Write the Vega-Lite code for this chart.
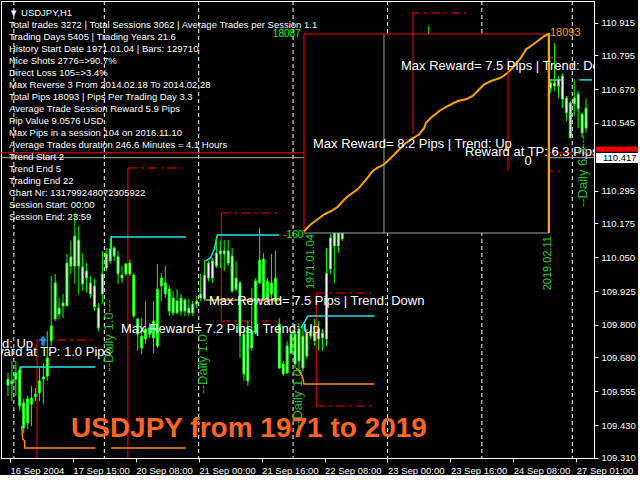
{
"$schema":"https://vega.github.io/schema/vega-lite/v6.json",
"width":593,"height":457,"padding":0,"background":"#000000",
"config":{"view":{"stroke":"#ffffff","strokeWidth":1},"text":{"font":"Liberation Sans"},"axis":{"labelOverlap":false,"labelFlush":false,"labelBound":false}},
"resolve":{"scale":{"x":"independent","y":"independent"}},
"layer":[
{"layer":[
 {"data":{"values":[{"i":1.5},{"i":24.5},{"i":48.5},{"i":72.5},{"i":96.5},{"i":120.5},{"i":143.5}]},
  "mark":{"type":"rule","color":"#ffffff","strokeDash":[4,3],"strokeWidth":1},
  "encoding":{"x":{"field":"i","type":"quantitative","title":null,"scale":{"domain":[-0.5,147.75],"nice":false,"zero":false},
   "axis":{"orient":"bottom","title":null,"grid":false,"tickCount":30,"values":[0.5,16.5,32.5,48.5,64.5,80.5,96.5,112.5,128.5,144.5],
    "labelExpr":"['16 Sep 2004','17 Sep 15:00','20 Sep 08:00','21 Sep 00:00','21 Sep 16:00','22 Sep 08:00','23 Sep 00:00','23 Sep 16:00','24 Sep 08:00','27 Sep 01:00'][floor(datum.value/16)]",
    "labelAlign":"left","labelColor":"#ffffff","labelFont":"Liberation Sans","labelFontSize":9.5,"tickColor":"#ffffff","tickSize":4,"domainColor":"#ffffff","labelPadding":3,"labelOverlap":false,"labelFlush":false,"labelBound":false}}}},
 {"data":{"values":[{"p":110.435,"line":"ask"},{"p":110.417,"line":"bid"}]},
  "mark":{"type":"rule","strokeWidth":1},
  "encoding":{"y":{"field":"p","type":"quantitative","title":null,"scale":{"domain":[109.309,110.995],"nice":false,"zero":false},
   "axis":{"orient":"right","title":null,"grid":false,"tickCount":30,"values":[110.915,110.795,110.670,110.545,110.295,110.175,110.050,109.925,109.800,109.680,109.555,109.430,109.310],
    "format":".3f","labelColor":"#ffffff","labelFont":"Liberation Sans","labelFontSize":9.5,"tickColor":"#ffffff","tickSize":4,"domainColor":"#ffffff","labelPadding":3,"labelOverlap":false,"labelFlush":false,"labelBound":false}},
   "color":{"field":"line","type":"nominal","scale":{"domain":["ask","bid"],"range":["#ff0000","#b0b0b0"]},"legend":null}}},
 {"data":{"values":[
   {"i1":7.375,"i2":21.5,"p":109.744},{"i1":30.5,"i2":44.5,"p":110.379},
   {"i1":54.25,"i2":68.5,"p":110.213},{"i1":54.25,"i2":68.5,"p":109.814},
   {"i1":78.4,"i2":92.5,"p":109.918},{"i1":78.4,"i2":92.5,"p":109.501},
   {"i1":102.5,"i2":116.5,"p":110.951},
   {"i1":126.25,"i2":141.25,"p":110.785},{"i1":126.25,"i2":141.25,"p":110.368}]},
  "mark":{"type":"rule","color":"#ff0000","strokeWidth":1,"strokeDash":[9,4,3,4],"clip":true},
  "encoding":{"x":{"field":"i1","type":"quantitative","title":null,"scale":{"domain":[-0.5,147.75],"nice":false,"zero":false}},"x2":{"field":"i2"},
   "y":{"field":"p","type":"quantitative","title":null,"scale":{"domain":[109.309,110.995],"nice":false,"zero":false}}}},
 {"data":{"values":[
   {"i":7.375,"p1":109.744,"p2":109.2},{"i":30.5,"p1":110.379,"p2":109.2},
   {"i":54.25,"p1":110.213,"p2":109.814},{"i":78.4,"p1":109.918,"p2":109.501}]},
  "mark":{"type":"rule","color":"#ff0000","strokeWidth":1,"clip":true},
  "encoding":{"x":{"field":"i","type":"quantitative","title":null,"scale":{"domain":[-0.5,147.75],"nice":false,"zero":false}},
   "y":{"field":"p1","type":"quantitative","title":null,"scale":{"domain":[109.309,110.995],"nice":false,"zero":false}},"y2":{"field":"p2"}}},
 {"data":{"values":[
   {"id":"c1","k":0,"i":3.25,"p":109.622},{"id":"c1","k":1,"i":3.25,"p":109.645},{"id":"c1","k":2,"i":22.25,"p":109.645},
   {"id":"c2","k":0,"i":26.25,"p":110.080},{"id":"c2","k":1,"i":26.25,"p":110.124},{"id":"c2","k":2,"i":45.25,"p":110.124},
   {"id":"c3","k":0,"i":50.25,"p":110.036},{"id":"c3","k":1,"i":51.5,"p":110.047},{"id":"c3","k":2,"i":52.5,"p":110.080},{"id":"c3","k":3,"i":53,"p":110.117},{"id":"c3","k":4,"i":53.25,"p":110.132},{"id":"c3","k":5,"i":69,"p":110.132},
   {"id":"c4","k":0,"i":74.5,"p":109.788},{"id":"c4","k":1,"i":75.25,"p":109.807},{"id":"c4","k":2,"i":76.25,"p":109.833},{"id":"c4","k":3,"i":93.25,"p":109.833},
   {"id":"c5","k":0,"i":126.25,"p":110.704},{"id":"c5","k":1,"i":141.25,"p":110.704},
   {"id":"c6","k":0,"i":145.25,"p":110.704},{"id":"c6","k":1,"i":148.5,"p":110.704}]},
  "mark":{"type":"line","color":"#1ee6ee","strokeWidth":1.5,"clip":true},
  "encoding":{"x":{"field":"i","type":"quantitative","title":null,"scale":{"domain":[-0.5,147.75],"nice":false,"zero":false}},
   "y":{"field":"p","type":"quantitative","title":null,"scale":{"domain":[109.309,110.995],"nice":false,"zero":false}},
   "detail":{"field":"id","type":"nominal"},"order":{"field":"k","type":"quantitative"}}},
 {"data":{"values":[
   {"id":"o1","k":0,"i":3.5,"p":109.427},{"id":"o1","k":1,"i":3.75,"p":109.379},{"id":"o1","k":2,"i":4.25,"p":109.372},{"id":"o1","k":3,"i":4.25,"p":109.346},{"id":"o1","k":4,"i":22.25,"p":109.346},
   {"id":"o2","k":0,"i":26.25,"p":109.346},{"id":"o2","k":1,"i":45.25,"p":109.346},
   {"id":"o3","k":0,"i":50.25,"p":109.892},{"id":"o3","k":1,"i":69.5,"p":109.892},
   {"id":"o4","k":0,"i":73.25,"p":109.641},{"id":"o4","k":1,"i":74.5,"p":109.622},{"id":"o4","k":2,"i":75,"p":109.604},{"id":"o4","k":3,"i":75.25,"p":109.582},{"id":"o4","k":4,"i":93.25,"p":109.582}]},
  "mark":{"type":"line","color":"#ff8c00","strokeWidth":1.5,"clip":true},
  "encoding":{"x":{"field":"i","type":"quantitative","title":null,"scale":{"domain":[-0.5,147.75],"nice":false,"zero":false}},
   "y":{"field":"p","type":"quantitative","title":null,"scale":{"domain":[109.309,110.995],"nice":false,"zero":false}},
   "detail":{"field":"id","type":"nominal"},"order":{"field":"k","type":"quantitative"}}},
 {"data":{"name":"candles"},
  "mark":{"type":"rule","color":"#00ff00","strokeWidth":1,"clip":true},
  "encoding":{"x":{"field":"i","type":"quantitative","title":null,"scale":{"domain":[-0.5,147.75],"nice":false,"zero":false}},
   "y":{"field":"h","type":"quantitative","title":null,"scale":{"domain":[109.309,110.995],"nice":false,"zero":false}},"y2":{"field":"l"}}},
 {"data":{"name":"candles"},
  "mark":{"type":"bar","width":2,"fill":"#ffffff","stroke":"#00ff00","strokeWidth":1,"orient":"vertical","clip":true},
  "encoding":{"x":{"field":"i","type":"quantitative","title":null,"scale":{"domain":[-0.5,147.75],"nice":false,"zero":false}},
   "y":{"field":"o","type":"quantitative","title":null,"scale":{"domain":[109.309,110.995],"nice":false,"zero":false}},"y2":{"field":"c"}}}
]},
{"layer":[
 {"data":{"values":[{"t1":0,"t2":3272,"p1":-160,"p2":18093}]},
  "mark":{"type":"rect","fill":"#000000"},
  "encoding":{"x":{"field":"t1","type":"quantitative","axis":null,"scale":{"domain":[-4047,3873],"nice":false,"zero":false}},"x2":{"field":"t2"},
   "y":{"field":"p1","type":"quantitative","axis":null,"scale":{"domain":[-20797,21119],"nice":false,"zero":false}},"y2":{"field":"p2"}}},
 {"data":{"values":[{"t1":0,"t2":3272,"p1":-160,"p2":-160},{"t1":1068,"t2":1068,"p1":-160,"p2":18093}]},
  "mark":{"type":"rule","color":"#a0a0a0","strokeWidth":1},
  "encoding":{"x":{"field":"t1","type":"quantitative","axis":null,"scale":{"domain":[-4047,3873],"nice":false,"zero":false}},"x2":{"field":"t2"},
   "y":{"field":"p1","type":"quantitative","axis":null,"scale":{"domain":[-20797,21119],"nice":false,"zero":false}},"y2":{"field":"p2"}}},
 {"data":{"values":[{"t1":0,"t2":3272,"p1":18093,"p2":18093},{"t1":0,"t2":0,"p1":-160,"p2":18093},{"t1":3259,"t2":3259,"p1":-160,"p2":18093}]},
  "mark":{"type":"rule","color":"#ff0000","strokeWidth":1},
  "encoding":{"x":{"field":"t1","type":"quantitative","axis":null,"scale":{"domain":[-4047,3873],"nice":false,"zero":false}},"x2":{"field":"t2"},
   "y":{"field":"p1","type":"quantitative","axis":null,"scale":{"domain":[-20797,21119],"nice":false,"zero":false}},"y2":{"field":"p2"}}},
 {"data":{"values":[
   {"k":0,"t":0,"pips":0},{"k":1,"t":93,"pips":638},{"k":2,"t":183,"pips":1097},{"k":3,"t":271,"pips":1555},{"k":4,"t":361,"pips":1858},
   {"k":5,"t":450,"pips":2225},{"k":6,"t":561,"pips":3078},{"k":7,"t":650,"pips":3536},{"k":8,"t":717,"pips":3848},{"k":9,"t":851,"pips":4912},
   {"k":10,"t":917,"pips":5527},{"k":11,"t":984,"pips":5829},{"k":12,"t":1072,"pips":6141},{"k":13,"t":1162,"pips":6747},{"k":14,"t":1251,"pips":7361},
   {"k":15,"t":1340,"pips":7976},{"k":16,"t":1429,"pips":8434},{"k":17,"t":1540,"pips":8893},{"k":18,"t":1607,"pips":9498},{"k":19,"t":1629,"pips":9957},
   {"k":20,"t":1696,"pips":10415},{"k":21,"t":1807,"pips":11030},{"k":22,"t":1919,"pips":11488},{"k":23,"t":2053,"pips":11947},{"k":24,"t":2164,"pips":12103},
   {"k":25,"t":2253,"pips":12406},{"k":26,"t":2341,"pips":13020},{"k":27,"t":2408,"pips":13479},{"k":28,"t":2497,"pips":13781},{"k":29,"t":2631,"pips":14084},
   {"k":30,"t":2720,"pips":14543},{"k":31,"t":2787,"pips":15001},{"k":32,"t":2898,"pips":15919},{"k":33,"t":2965,"pips":16689},{"k":34,"t":3031,"pips":16992},
   {"k":35,"t":3121,"pips":17450},{"k":36,"t":3209,"pips":17909},{"k":37,"t":3265,"pips":18093},{"k":38,"t":3272,"pips":18093},{"k":39,"t":3272,"pips":-160}]},
  "mark":{"type":"line","color":"#ffa500","strokeWidth":2},
  "encoding":{"x":{"field":"t","type":"quantitative","axis":null,"scale":{"domain":[-4047,3873],"nice":false,"zero":false}},
   "y":{"field":"pips","type":"quantitative","axis":null,"scale":{"domain":[-20797,21119],"nice":false,"zero":false}},
   "order":{"field":"k","type":"quantitative"}}},
 {"data":{"values":[{"label":"18087","t":-45,"pips":18093},{"label":"-160","t":-10,"pips":-300}]},
  "mark":{"type":"text","color":"#00ff00","fontSize":10,"align":"right","baseline":"middle"},
  "encoding":{"x":{"field":"t","type":"quantitative","axis":null,"scale":{"domain":[-4047,3873],"nice":false,"zero":false}},
   "y":{"field":"pips","type":"quantitative","axis":null,"scale":{"domain":[-20797,21119],"nice":false,"zero":false}},
   "text":{"field":"label"}}},
 {"data":{"values":[{"label":"18093","t":3285,"pips":18200}]},
  "mark":{"type":"text","color":"#f0a020","fontSize":11,"align":"left","baseline":"middle"},
  "encoding":{"x":{"field":"t","type":"quantitative","axis":null,"scale":{"domain":[-4047,3873],"nice":false,"zero":false}},
   "y":{"field":"pips","type":"quantitative","axis":null,"scale":{"domain":[-20797,21119],"nice":false,"zero":false}},
   "text":{"field":"label"}}},
 {"data":{"values":[{"label":"1971.01.04","t":93,"pips":-252},{"label":"2019.02.11","t":3265,"pips":-435}]},
  "mark":{"type":"text","color":"#22d022","fontSize":11,"angle":270,"align":"right","baseline":"middle"},
  "encoding":{"x":{"field":"t","type":"quantitative","axis":null,"scale":{"domain":[-4047,3873],"nice":false,"zero":false}},
   "y":{"field":"pips","type":"quantitative","axis":null,"scale":{"domain":[-20797,21119],"nice":false,"zero":false}},
   "text":{"field":"label"}}}
]},
{"layer":[
 {"data":{"values":[{"i":102.5,"p1":110.951,"p2":110.504},{"i":126.25,"p1":110.785,"p2":110.368}]},
  "mark":{"type":"rule","color":"#ff0000","strokeWidth":1},
  "encoding":{"x":{"field":"i","type":"quantitative","axis":null,"scale":{"domain":[-0.5,147.75],"nice":false,"zero":false}},
   "y":{"field":"p1","type":"quantitative","axis":null,"scale":{"domain":[109.309,110.995],"nice":false,"zero":false}},"y2":{"field":"p2"}}},
 {"data":{"values":[
   {"label":"Max Reward= 8.2 Pips | Trend: Up","i":77.5,"p":110.467},
   {"label":"Max Reward= 7.5 Pips | Trend: Down","i":99.5,"p":110.755},
   {"label":"Reward at TP: 6.3 Pips","i":115.5,"p":110.438},
   {"label":"Max Reward= 7.5 Pips | Trend: Down","i":51.5,"p":109.888},
   {"label":"Max Reward= 7.2 Pips | Trend: Up","i":29.5,"p":109.785}]},
  "mark":{"type":"text","color":"#ffffff","fontSize":13,"align":"left","baseline":"middle","clip":true},
  "encoding":{"x":{"field":"i","type":"quantitative","axis":null,"scale":{"domain":[-0.5,147.75],"nice":false,"zero":false}},
   "y":{"field":"p","type":"quantitative","axis":null,"scale":{"domain":[109.309,110.995],"nice":false,"zero":false}},
   "text":{"field":"label"}}},
 {"data":{"values":[
   {"label":"Reward at TP: 1.0 Pips","i":27,"p":109.700},
   {"label":"Max Reward= 6.9 Pips | Trend: Up","i":7.5,"p":109.729}]},
  "mark":{"type":"text","color":"#ffffff","fontSize":13,"align":"right","baseline":"middle","clip":true},
  "encoding":{"x":{"field":"i","type":"quantitative","axis":null,"scale":{"domain":[-0.5,147.75],"nice":false,"zero":false}},
   "y":{"field":"p","type":"quantitative","axis":null,"scale":{"domain":[109.309,110.995],"nice":false,"zero":false}},
   "text":{"field":"label"}}},
 {"data":{"values":[{"label":"0","i":131.25,"p":110.405}]},
  "mark":{"type":"text","color":"#ffffff","fontSize":13,"align":"center","baseline":"middle","clip":true},
  "encoding":{"x":{"field":"i","type":"quantitative","axis":null,"scale":{"domain":[-0.5,147.75],"nice":false,"zero":false}},
   "y":{"field":"p","type":"quantitative","axis":null,"scale":{"domain":[109.309,110.995],"nice":false,"zero":false}},
   "text":{"field":"label"}}},
 {"data":{"values":[
   {"label":"--Daily 1.0---","i":26.5,"p":109.761},
   {"label":"--Daily 1.0","i":50,"p":109.656},
   {"label":"--Daily 1.0","i":73.75,"p":109.528},
   {"label":"--Daily 6.3---","i":145,"p":110.368}]},
  "mark":{"type":"text","color":"#1fc01f","fontSize":13,"angle":270,"align":"center","baseline":"middle","clip":true},
  "encoding":{"x":{"field":"i","type":"quantitative","axis":null,"scale":{"domain":[-0.5,147.75],"nice":false,"zero":false}},
   "y":{"field":"p","type":"quantitative","axis":null,"scale":{"domain":[109.309,110.995],"nice":false,"zero":false}},
   "text":{"field":"label"}}},
 {"data":{"values":[{"label":"USDJPY from 1971 to 2019","i":17,"p":109.416}]},
  "mark":{"type":"text","color":"#ff6622","fontSize":28,"fontWeight":"bold","align":"left","baseline":"middle"},
  "encoding":{"x":{"field":"i","type":"quantitative","axis":null,"scale":{"domain":[-0.5,147.75],"nice":false,"zero":false}},
   "y":{"field":"p","type":"quantitative","axis":null,"scale":{"domain":[109.309,110.995],"nice":false,"zero":false}},
   "text":{"field":"label"}}},
 {"data":{"values":[{"i":10,"p":109.742}]},
  "mark":{"type":"point","shape":"M0,-1L0.9,0L0.35,0L0.35,1L-0.35,1L-0.35,0L-0.9,0Z","size":90,"filled":true,"color":"#1e90ff","opacity":1},
  "encoding":{"x":{"field":"i","type":"quantitative","axis":null,"scale":{"domain":[-0.5,147.75],"nice":false,"zero":false}},
   "y":{"field":"p","type":"quantitative","axis":null,"scale":{"domain":[109.309,110.995],"nice":false,"zero":false}}}},
 {"data":{"values":[{"i1":148.25,"i2":158.75,"p1":110.4574,"p2":110.4389}]},
  "mark":{"type":"rect","fill":"#ff0000","clip":false},
  "encoding":{"x":{"field":"i1","type":"quantitative","axis":null,"scale":{"domain":[-0.5,147.75],"nice":false,"zero":false}},"x2":{"field":"i2"},
   "y":{"field":"p1","type":"quantitative","axis":null,"scale":{"domain":[109.309,110.995],"nice":false,"zero":false}},"y2":{"field":"p2"}}},
 {"data":{"values":[{"i1":148.25,"i2":158.75,"p1":110.4341,"p2":110.3972}]},
  "mark":{"type":"rect","fill":"#ffffff","clip":false},
  "encoding":{"x":{"field":"i1","type":"quantitative","axis":null,"scale":{"domain":[-0.5,147.75],"nice":false,"zero":false}},"x2":{"field":"i2"},
   "y":{"field":"p1","type":"quantitative","axis":null,"scale":{"domain":[109.309,110.995],"nice":false,"zero":false}},"y2":{"field":"p2"}}},
 {"data":{"values":[{"label":"110.435","i":150,"p":110.4482}]},
  "mark":{"type":"text","color":"#b00000","fontSize":9.5,"align":"left","baseline":"middle","clip":false},
  "encoding":{"x":{"field":"i","type":"quantitative","axis":null,"scale":{"domain":[-0.5,147.75],"nice":false,"zero":false}},
   "y":{"field":"p","type":"quantitative","axis":null,"scale":{"domain":[109.309,110.995],"nice":false,"zero":false}},
   "text":{"field":"label"}}},
 {"data":{"values":[{"label":"110.417","i":150,"p":110.4157}]},
  "mark":{"type":"text","color":"#000000","fontSize":9.5,"align":"left","baseline":"middle","clip":false},
  "encoding":{"x":{"field":"i","type":"quantitative","axis":null,"scale":{"domain":[-0.5,147.75],"nice":false,"zero":false}},
   "y":{"field":"p","type":"quantitative","axis":null,"scale":{"domain":[109.309,110.995],"nice":false,"zero":false}},
   "text":{"field":"label"}}}
]},
{"data":{"values":[
  {"row":0,"label":"▼ USDJPY,H1"},
  {"row":1,"label":"Total trades 3272 | Total Sessions 3062 | Average Trades per Session  1.1"},
  {"row":2,"label":"Trading Days 5405 | Trading Years 21.6"},
  {"row":3,"label":"History Start Date 1971.01.04 | Bars: 129710"},
  {"row":4,"label":"Nice Shots 2776=>90.7%"},
  {"row":5,"label":"Direct Loss 105=>3.4%"},
  {"row":6,"label":"Max Reverse 3 From 2014.02.18 To 2014.02.28"},
  {"row":7,"label":"Total Pips 18093 | Pips Per Trading Day 3.3"},
  {"row":8,"label":"Average Trade Session Reward 5.9 Pips"},
  {"row":9,"label":"Pip Value 9.0576 USD"},
  {"row":10,"label":"Max Pips in a session 104 on 2016.11.10"},
  {"row":11,"label":"Average Trades duration 246.6 Minutes = 4.1 Hours"},
  {"row":12,"label":"Trend Start 2"},
  {"row":13,"label":"Trend End 5"},
  {"row":14,"label":"Trading End 22"},
  {"row":15,"label":"Chart Nr: 131799248072305922"},
  {"row":16,"label":"Session Start: 00:00"},
  {"row":17,"label":"Session End: 23:59"}]},
 "mark":{"type":"text","color":"#ffffff","fontSize":9.5,"align":"left","baseline":"middle"},
 "encoding":{"x":{"datum":1.5,"type":"quantitative","axis":null,"scale":{"domain":[-0.5,147.75],"nice":false,"zero":false}},
  "y":{"field":"row","type":"quantitative","axis":null,"scale":{"domain":[-1,37.083],"nice":false,"zero":false,"reverse":true}},
  "text":{"field":"label"}}
}
],
"datasets":{"candles":[
{"i":0,"o":109.600,"h":109.623,"l":109.538,"c":109.578},
{"i":1,"o":109.582,"h":109.667,"l":109.519,"c":109.593},
{"i":2,"o":109.600,"h":109.667,"l":109.538,"c":109.623},
{"i":3,"o":109.634,"h":109.645,"l":109.482,"c":109.501},
{"i":4,"o":109.512,"h":109.527,"l":109.401,"c":109.420},
{"i":5,"o":109.438,"h":109.538,"l":109.416,"c":109.527},
{"i":6,"o":109.508,"h":109.575,"l":109.427,"c":109.530},
{"i":7,"o":109.534,"h":109.567,"l":109.519,"c":109.545},
{"i":8,"o":109.549,"h":109.641,"l":109.519,"c":109.593},
{"i":9,"o":109.600,"h":109.659,"l":109.508,"c":109.608},
{"i":10,"o":109.611,"h":109.777,"l":109.593,"c":109.678},
{"i":11,"o":109.741,"h":109.980,"l":109.722,"c":109.796},
{"i":12,"o":109.822,"h":109.988,"l":109.814,"c":109.955},
{"i":13,"o":109.862,"h":109.899,"l":109.822,"c":109.840},
{"i":14,"o":109.870,"h":109.914,"l":109.825,"c":109.881},
{"i":15,"o":109.870,"h":110.062,"l":109.870,"c":110.028},
{"i":16,"o":110.017,"h":110.110,"l":109.988,"c":110.051},
{"i":17,"o":110.017,"h":110.213,"l":109.951,"c":110.128},
{"i":18,"o":110.113,"h":110.165,"l":109.914,"c":110.017},
{"i":19,"o":110.014,"h":110.065,"l":109.925,"c":109.951},
{"i":20,"o":109.973,"h":110.028,"l":109.918,"c":109.999},
{"i":21,"o":109.955,"h":109.980,"l":109.899,"c":109.914},
{"i":22,"o":109.944,"h":109.969,"l":109.851,"c":109.866},
{"i":23,"o":109.862,"h":109.881,"l":109.777,"c":109.789},
{"i":24,"o":109.914,"h":110.073,"l":109.877,"c":109.988},
{"i":25,"o":110.010,"h":110.084,"l":109.999,"c":110.062},
{"i":26,"o":110.036,"h":110.121,"l":110.025,"c":110.080},
{"i":27,"o":110.084,"h":110.091,"l":110.036,"c":110.054},
{"i":28,"o":110.051,"h":110.073,"l":109.951,"c":109.988},
{"i":29,"o":109.984,"h":110.017,"l":109.955,"c":109.973},
{"i":30,"o":109.988,"h":110.028,"l":109.980,"c":110.025},
{"i":31,"o":110.028,"h":110.043,"l":109.980,"c":109.988},
{"i":32,"o":109.984,"h":109.991,"l":109.825,"c":109.833},
{"i":33,"o":109.822,"h":109.825,"l":109.704,"c":109.766},
{"i":34,"o":109.759,"h":109.825,"l":109.693,"c":109.715},
{"i":35,"o":109.748,"h":109.888,"l":109.730,"c":109.785},
{"i":36,"o":109.789,"h":109.807,"l":109.752,"c":109.766},
{"i":37,"o":109.752,"h":109.888,"l":109.696,"c":109.814},
{"i":38,"o":109.722,"h":110.025,"l":109.715,"c":109.932},
{"i":39,"o":109.944,"h":109.991,"l":109.888,"c":109.973},
{"i":40,"o":109.955,"h":110.017,"l":109.899,"c":109.914},
{"i":41,"o":109.932,"h":109.944,"l":109.833,"c":109.851},
{"i":42,"o":109.844,"h":109.925,"l":109.833,"c":109.899},
{"i":43,"o":109.888,"h":109.932,"l":109.840,"c":109.844},
{"i":44,"o":109.851,"h":109.914,"l":109.833,"c":109.899},
{"i":45,"o":109.892,"h":109.899,"l":109.833,"c":109.851},
{"i":46,"o":109.862,"h":109.896,"l":109.833,"c":109.844},
{"i":47,"o":109.844,"h":109.888,"l":109.833,"c":109.877},
{"i":48,"o":109.877,"h":109.907,"l":109.862,"c":109.888},
{"i":49,"o":109.899,"h":109.988,"l":109.888,"c":109.914},
{"i":50,"o":109.896,"h":110.039,"l":109.888,"c":109.984},
{"i":51,"o":109.973,"h":110.036,"l":109.962,"c":110.028},
{"i":52,"o":110.036,"h":110.047,"l":109.955,"c":109.973},
{"i":53,"o":110.017,"h":110.121,"l":110.010,"c":110.065},
{"i":54,"o":110.062,"h":110.110,"l":110.010,"c":110.073},
{"i":55,"o":110.073,"h":110.113,"l":109.999,"c":110.062},
{"i":56,"o":110.073,"h":110.113,"l":110.017,"c":110.028},
{"i":57,"o":110.054,"h":110.084,"l":109.918,"c":109.925},
{"i":58,"o":109.932,"h":110.036,"l":109.925,"c":109.973},
{"i":59,"o":109.955,"h":109.962,"l":109.678,"c":109.770},
{"i":60,"o":109.766,"h":109.785,"l":109.593,"c":109.619},
{"i":61,"o":109.593,"h":109.814,"l":109.575,"c":109.789},
{"i":62,"o":109.777,"h":109.936,"l":109.704,"c":109.715},
{"i":63,"o":109.770,"h":109.973,"l":109.766,"c":109.962},
{"i":64,"o":109.955,"h":110.158,"l":109.951,"c":110.039},
{"i":65,"o":110.043,"h":110.065,"l":109.888,"c":109.899},
{"i":66,"o":109.899,"h":109.973,"l":109.881,"c":109.962},
{"i":67,"o":109.955,"h":110.062,"l":109.899,"c":109.914},
{"i":68,"o":109.888,"h":110.073,"l":109.877,"c":109.973},
{"i":69,"o":109.803,"h":109.825,"l":109.637,"c":109.641},
{"i":70,"o":109.656,"h":109.667,"l":109.611,"c":109.619},
{"i":71,"o":109.623,"h":109.741,"l":109.619,"c":109.722},
{"i":72,"o":109.696,"h":109.777,"l":109.693,"c":109.766},
{"i":73,"o":109.766,"h":109.777,"l":109.641,"c":109.656},
{"i":74,"o":109.667,"h":109.807,"l":109.637,"c":109.785},
{"i":75,"o":109.759,"h":109.796,"l":109.630,"c":109.641},
{"i":76,"o":109.685,"h":109.785,"l":109.674,"c":109.770},
{"i":77,"o":109.759,"h":109.796,"l":109.748,"c":109.777},
{"i":78,"o":109.770,"h":109.822,"l":109.722,"c":109.741},
{"i":79,"o":109.748,"h":109.814,"l":109.704,"c":109.785},
{"i":80,"o":109.770,"h":109.785,"l":109.704,"c":109.752},
{"i":81,"o":109.748,"h":110.084,"l":109.722,"c":109.991},
{"i":82,"o":110.006,"h":110.135,"l":109.988,"c":110.121},
{"i":83,"o":110.091,"h":110.202,"l":109.955,"c":110.154},
{"i":84,"o":110.154,"h":110.202,"l":110.065,"c":110.091},
{"i":85,"o":110.117,"h":110.220,"l":110.110,"c":110.183},
{"i":107,"o":110.700,"h":110.903,"l":110.552,"c":110.811},
{"i":137,"o":110.718,"h":110.855,"l":110.652,"c":110.681},
{"i":138,"o":110.674,"h":110.707,"l":110.656,"c":110.693},
{"i":139,"o":110.693,"h":110.840,"l":110.663,"c":110.681},
{"i":140,"o":110.681,"h":110.718,"l":110.637,"c":110.707},
{"i":141,"o":110.718,"h":110.729,"l":110.600,"c":110.633},
{"i":142,"o":110.637,"h":110.645,"l":110.552,"c":110.582},
{"i":143,"o":110.490,"h":110.626,"l":110.490,"c":110.619},
{"i":144,"o":110.637,"h":110.707,"l":110.571,"c":110.615},
{"i":145,"o":110.597,"h":110.663,"l":110.526,"c":110.652},
{"i":146,"o":110.578,"h":110.582,"l":110.490,"c":110.508},
{"i":147,"o":110.526,"h":110.637,"l":110.508,"c":110.600}
]}
}
